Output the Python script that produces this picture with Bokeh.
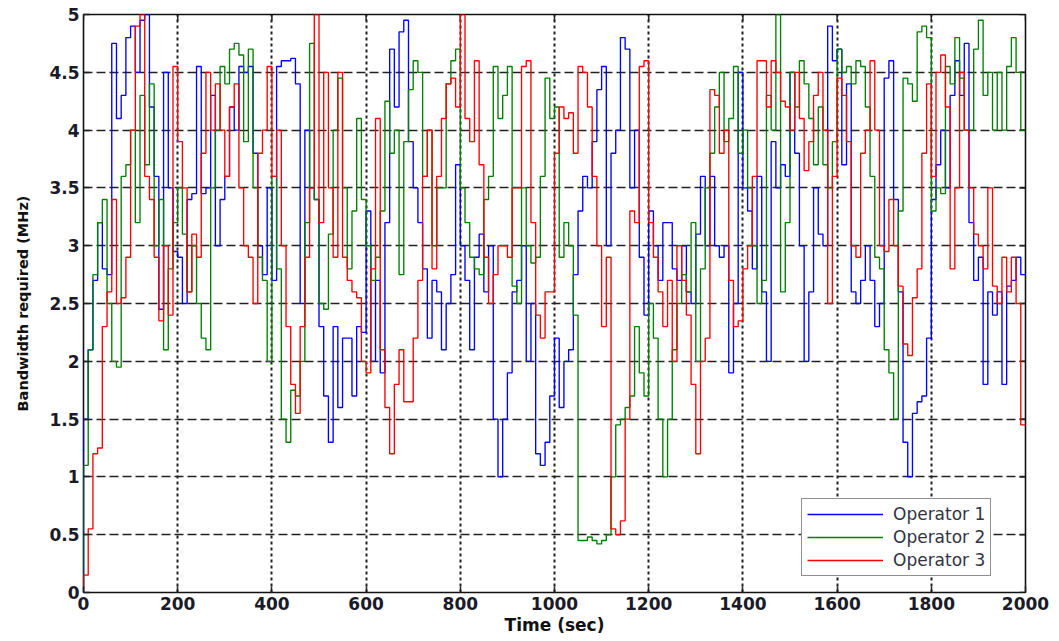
import math
from bokeh.plotting import figure
from bokeh.models import Range1d, FixedTicker, Legend, LegendItem
from bokeh.embed import file_html
from bokeh.resources import INLINE

TIME = list(range(0, 2001, 10))

OPERATOR_1 = [
    0, 1.5, 2.1, 2.7, 3.2, 2.8, 2.75, 4.75, 4.1, 4.3,
    4.8, 4.9, 4.5, 4.95, 5.0, 4.2, 3.6, 2.45, 4.5, 3.5,
    2.95, 2.9, 2.5, 3.4, 3.45, 4.55, 3.45, 3.5, 4.3, 3.0,
    3.4, 3.6, 4.2, 4.0, 4.55, 4.5, 4.55, 3.8, 3.0, 2.75,
    3.5, 2.7, 4.55, 4.6, 4.6, 4.62, 4.4, 2.5, 4.0, 3.5,
    3.4, 2.3, 1.7, 1.3, 2.3, 1.6, 2.2, 2.2, 1.7, 2.3,
    2.25, 3.3, 2.0, 2.7, 1.9, 3.2, 4.7, 4.2, 4.85, 4.95,
    3.9, 3.5, 3.2, 2.8, 2.2, 2.7, 2.6, 2.1, 2.5, 2.75,
    3.7, 3.0, 2.7, 2.1, 2.9, 3.1, 2.6, 3.0, 1.5, 1.0,
    1.5, 1.9, 2.6, 2.7, 3.0, 2.0, 2.5, 1.2, 1.1, 1.3,
    1.7, 2.2, 1.6, 2.0, 2.1, 2.75, 3.3, 3.6, 3.5, 3.9,
    4.35, 4.55, 3.0, 3.8, 4.0, 4.8, 4.7, 3.5, 4.0, 2.9,
    2.4, 3.3, 3.0, 2.7, 3.2, 3.2, 2.8, 2.7, 3.0, 2.6,
    2.5, 3.1, 3.6, 3.0, 3.6, 3.0, 2.9, 3.0, 1.9, 2.5,
    4.5, 3.5, 3.3, 2.8, 3.6, 2.6, 2.0, 3.9, 3.5, 3.7,
    3.6, 4.5, 3.8, 3.0, 2.0, 2.6, 3.5, 3.1, 3.0, 4.9,
    4.6, 4.7, 3.7, 4.4, 2.6, 2.5, 2.7, 3.0, 2.7, 2.3,
    2.5, 4.45, 4.6, 3.4, 2.6, 1.3, 1.0, 1.55, 1.65, 1.7,
    2.2, 3.4, 3.7, 4.0, 3.5, 4.3, 4.6, 4.3, 4.75, 3.2,
    2.7, 2.9, 1.8, 2.6, 2.4, 2.6, 1.8, 2.65, 2.7, 2.9,
    2.75,
]

OPERATOR_2 = [
    0, 1.1, 2.1, 2.75, 3.2, 3.4, 2.5, 2.0, 1.95, 3.6,
    3.7, 4.0, 3.2, 4.3, 3.7, 4.4, 3.0, 3.4, 2.1, 2.8,
    3.2, 3.5, 3.1, 2.6, 3.0, 2.5, 2.2, 2.1, 3.5, 4.0,
    4.55, 4.4, 4.7, 4.75, 4.65, 3.9, 4.7, 3.5, 2.9, 2.7,
    2.0, 3.6, 2.8, 1.5, 1.3, 1.75, 1.7, 2.0, 3.2, 4.75,
    3.4, 2.5, 2.45, 3.1, 4.0, 4.45, 3.5, 2.8, 3.3, 4.1,
    3.4, 3.0, 2.7, 2.9, 3.3, 4.25, 3.8, 4.0, 2.75, 3.9,
    4.35, 4.6, 4.5, 3.6, 4.0, 3.0, 3.5, 3.5, 4.4, 4.6,
    4.7, 3.5, 3.2, 2.9, 2.8, 2.75, 3.4, 3.6, 4.55, 4.1,
    4.3, 4.55, 2.65, 2.5, 3.5, 3.0, 2.85, 2.9, 3.6, 4.45,
    4.1, 4.2, 2.9, 3.2, 3.0, 2.4, 0.45, 0.45, 0.48, 0.45,
    0.42, 0.45, 0.5, 1.0, 1.45, 1.5, 1.6, 1.7, 2.3, 1.9,
    1.7, 2.5, 2.2, 1.5, 1.0, 1.5, 2.1, 2.5, 2.75, 2.6,
    3.2, 2.0, 2.8, 3.5, 3.8, 4.2, 4.5, 3.9, 4.1, 4.55,
    3.8, 4.0, 3.5, 3.0, 2.5, 2.7, 4.3, 4.0, 5.0, 2.6,
    3.2, 4.5, 4.2, 4.6, 4.4, 4.1, 3.7, 4.2, 3.7, 3.5,
    3.9, 4.7, 4.5, 4.55, 4.4, 4.6, 4.55, 4.2, 3.6, 2.9,
    2.8, 2.1, 1.9, 1.5, 3.3, 4.45, 4.4, 4.25, 4.85, 4.9,
    4.8, 3.3, 3.5, 3.45, 4.55, 4.4, 4.8, 4.45, 4.0, 4.0,
    4.7, 4.95, 4.3, 4.5, 4.0, 4.5, 4.0, 4.55, 4.8, 4.5,
    4.0,
]

OPERATOR_3 = [
    0, 0.15, 0.55, 1.2, 1.25, 2.3, 2.6, 3.4, 2.5, 2.55,
    2.9, 4.0, 4.9, 5.0, 3.6, 3.4, 2.9, 2.35, 3.0, 2.4,
    4.55, 3.9, 3.5, 2.6, 3.1, 2.9, 3.8, 4.5, 4.0, 4.4,
    4.0, 3.6, 4.2, 4.4, 3.5, 3.0, 2.9, 2.5, 3.8, 4.0,
    4.55, 3.6, 4.0, 3.0, 2.3, 1.8, 1.55, 2.3, 2.9, 3.5,
    5.0, 3.2, 4.5, 3.5, 2.9, 4.5, 2.9, 2.7, 2.6, 2.55,
    2.0, 1.9, 2.8, 4.1, 2.1, 1.6, 1.2, 1.8, 2.1, 1.65,
    1.65, 2.2, 2.7, 3.6, 4.0, 2.8, 3.6, 4.1, 4.4, 4.45,
    4.2, 5.0, 4.1, 3.9, 4.6, 3.7, 2.9, 2.5, 2.75, 3.0,
    3.0, 2.9, 3.5, 3.5, 4.55, 4.6, 3.2, 2.4, 2.2, 2.6,
    2.6, 3.8, 4.2, 4.1, 4.15, 3.8, 4.55, 4.5, 4.2, 3.6,
    3.0, 2.3, 2.9, 0.55, 0.5, 0.62, 1.5, 3.3, 3.2, 4.55,
    4.6, 3.2, 2.9, 2.6, 2.3, 2.7, 2.0, 3.0, 2.7, 2.4,
    1.8, 1.2, 2.0, 2.2, 4.35, 4.3, 3.8, 4.0, 2.7, 2.3,
    2.35, 2.8, 3.0, 3.6, 4.6, 4.6, 4.2, 4.6, 4.5, 4.25,
    4.2, 4.0, 4.5, 4.1, 3.65, 3.9, 4.3, 4.5, 4.0, 2.5,
    3.6, 4.45, 4.3, 3.9, 3.0, 2.9, 3.8, 4.0, 4.6, 4.0,
    3.0, 2.95, 3.4, 3.0, 2.65, 2.15, 2.05, 2.55, 2.8, 3.8,
    4.4, 3.6, 4.5, 4.65, 4.2, 2.8, 3.5, 4.5, 4.0, 3.5,
    3.1, 3.0, 2.8, 3.5, 2.65, 2.5, 2.9, 2.6, 2.9, 2.5,
    1.45,
]

SERIES_NAMES = ["Operator 1", "Operator 2", "Operator 3"]
SERIES_COLORS = ["#0000ff", "#008000", "#ff0000"]

X_MIN, X_MAX = 0, 2000
Y_MIN, Y_MAX = 0, 5
XTICKS = [0, 200, 400, 600, 800, 1000, 1200, 1400, 1600, 1800, 2000]
XTICK_LABELS = ["0", "200", "400", "600", "800", "1000", "1200", "1400", "1600", "1800", "2000"]
YTICKS = [0, 0.5, 1, 1.5, 2, 2.5, 3, 3.5, 4, 4.5, 5]
YTICK_LABELS = ["0", "0.5", "1", "1.5", "2", "2.5", "3", "3.5", "4", "4.5", "5"]

X_LABEL = "Time (sec)"
Y_LABEL = "Bandwidth required (MHz)"

p = figure(width=1059, height=641,
           x_range=Range1d(X_MIN, X_MAX), y_range=Range1d(Y_MIN, Y_MAX),
           output_backend="svg", toolbar_location=None,
           min_border_left=83, min_border_right=34,
           min_border_top=14, min_border_bottom=49,
           background_fill_color="white", border_fill_color="white")

p.outline_line_color = "#111111"
p.outline_line_width = 1.6

# grids
p.xgrid.ticker = FixedTicker(ticks=XTICKS)
p.ygrid.ticker = FixedTicker(ticks=YTICKS)
p.xgrid.grid_line_color = "#222222"
p.xgrid.grid_line_dash = "3 3"
p.xgrid.grid_line_width = 2
p.ygrid.grid_line_color = "#222222"
p.ygrid.grid_line_dash = "9 4"
p.ygrid.grid_line_width = 1.4

tick_font = "DejaVu Sans"
for ax, ticks, labels in ((p.xaxis[0], XTICKS, XTICK_LABELS), (p.yaxis[0], YTICKS, YTICK_LABELS)):
    ax.ticker = FixedTicker(ticks=ticks)
    ax.major_label_overrides = {float(t): l for t, l in zip(ticks, labels)}
    ax.major_label_text_font = tick_font
    ax.major_label_text_font_style = "bold"
    ax.major_label_text_font_size = "17px"
    ax.major_label_text_color = "#1a1a28"
    ax.major_tick_in = 6
    ax.major_tick_out = 0
    ax.major_tick_line_color = "#222222"
    ax.major_tick_line_width = 1.5
    ax.minor_tick_line_color = None
    ax.axis_line_color = None
    ax.axis_label_text_font = tick_font
    ax.axis_label_text_font_style = "bold"
    ax.axis_label_text_color = "#111111"

p.xaxis[0].axis_label = X_LABEL
p.xaxis[0].axis_label_text_font_size = "17px"
p.xaxis[0].major_label_standoff = 4
p.xaxis[0].axis_label_standoff = 2
p.yaxis[0].axis_label = Y_LABEL
p.yaxis[0].axis_label_text_font_size = "14.5px"
p.yaxis[0].major_label_standoff = 4
p.yaxis[0].axis_label_standoff = 15

# inward ticks on the top and right edges of the box
p.ray(x=XTICKS, y=[Y_MAX] * len(XTICKS), length=6, length_units="screen",
      angle=-math.pi / 2, line_color="#222222", line_width=1.5)
p.ray(x=[X_MAX] * len(YTICKS), y=YTICKS, length=6, length_units="screen",
      angle=math.pi, line_color="#222222", line_width=1.5)

renderers = []
for ys, color in zip((OPERATOR_1, OPERATOR_2, OPERATOR_3), SERIES_COLORS):
    r = p.step(TIME, ys, mode="before", line_color=color, line_width=1.35)
    renderers.append(r)

legend = Legend(items=[LegendItem(label=n, renderers=[r]) for n, r in zip(SERIES_NAMES, renderers)],
                location=(718, 16))
legend.border_line_color = "#222222"
legend.border_line_width = 1.5
legend.background_fill_color = "white"
legend.background_fill_alpha = 1.0
legend.label_text_font = "DejaVu Sans"
legend.label_text_font_size = "17px"
legend.label_text_color = "#333344"
legend.glyph_width = 76
legend.glyph_height = 18
legend.label_height = 18
legend.label_width = 92
legend.label_standoff = 10
legend.spacing = 3
legend.padding = 5
legend.margin = 0
p.add_layout(legend)

open("out.html", "w").write(file_html(p, INLINE))
